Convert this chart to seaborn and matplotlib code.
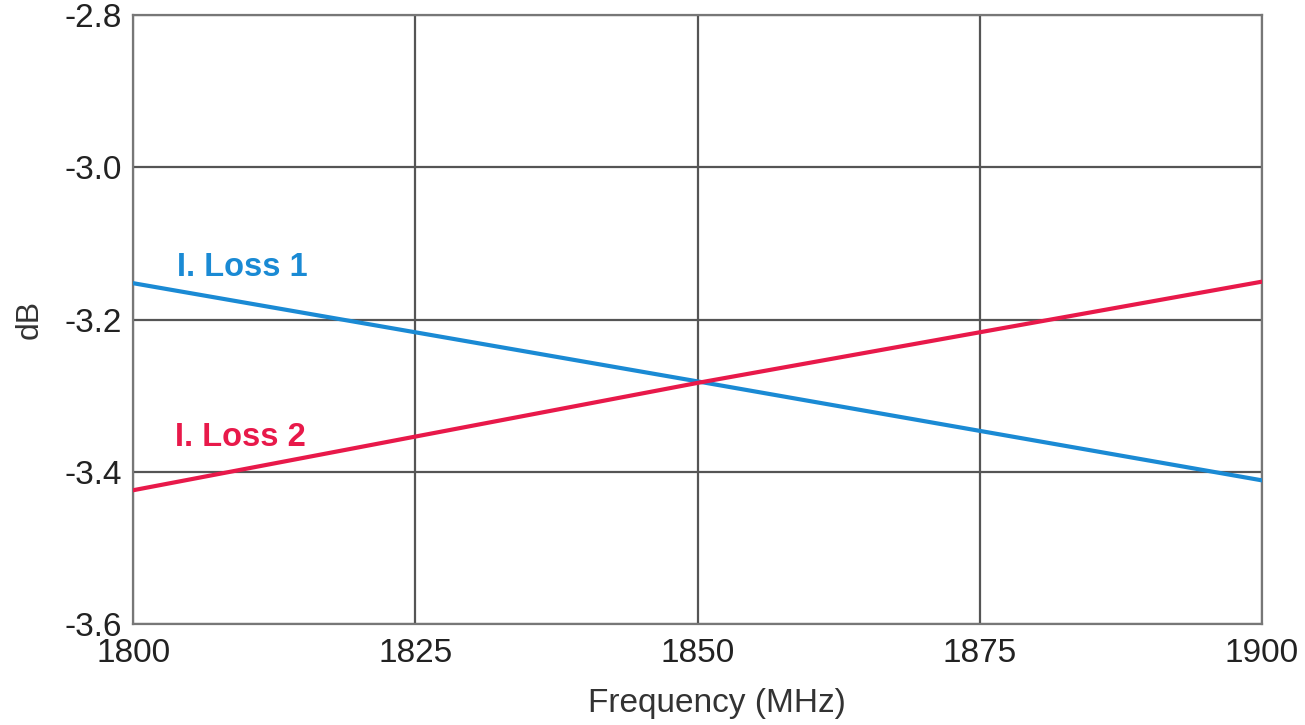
import numpy as np
import pandas as pd
import matplotlib
matplotlib.use("Agg")
import matplotlib.pyplot as plt
import seaborn as sns

# data
freq = [1800, 1850, 1900]
loss_1 = [-3.152, -3.281, -3.411]
loss_2 = [-3.424, -3.283, -3.150]
x_ticks = [1800, 1825, 1850, 1875, 1900]
y_ticks = [-3.6, -3.4, -3.2, -3.0, -2.8]

df = pd.DataFrame({
    'freq': freq * 2,
    'db': loss_1 + loss_2,
    'series': ['I. Loss 1'] * len(freq) + ['I. Loss 2'] * len(freq),
})

sns.set_style('white')
plt.rcParams['font.family'] = ['Liberation Sans', 'DejaVu Sans']

blue = '#1a8ad4'
red = '#e8194a'

fig = plt.figure(figsize=(13.05, 7.25), dpi=100)
ax = fig.add_axes([0.102, 0.139, 0.865, 0.840])

sns.lineplot(data=df, x='freq', y='db', hue='series',
             palette={'I. Loss 1': blue, 'I. Loss 2': red},
             linewidth=3, legend=False, ax=ax, zorder=3)

ax.set_xlim(1800, 1900)
ax.set_ylim(-3.6, -2.8)
ax.set_xticks(x_ticks)
ax.set_yticks(y_ticks)
ax.set_xticklabels([str(t) for t in x_ticks])
ax.set_yticklabels([f'{t:.1f}' for t in y_ticks])
ax.grid(True, color='#555555', linewidth=1.6)
ax.tick_params(labelsize=24, colors='#222222', length=0)
ax.tick_params(axis='x', pad=10)
ax.tick_params(axis='y', pad=8)
for s in ax.spines.values():
    s.set_color('#777777')
    s.set_linewidth(1.6)

ax.set_xlabel('Frequency (MHz)', fontsize=24, color='#333333')
ax.xaxis.set_label_coords(0.517, -0.105)
ax.set_ylabel('dB', fontsize=23, color='#333333', labelpad=14)

ax.text(1803.9, -3.152, 'I. Loss 1', color=blue, fontsize=23.5,
        fontweight='bold', va='bottom')
ax.text(1803.7, -3.375, 'I. Loss 2', color=red, fontsize=23.5,
        fontweight='bold', va='bottom')

plt.savefig('out.png', dpi=100)
